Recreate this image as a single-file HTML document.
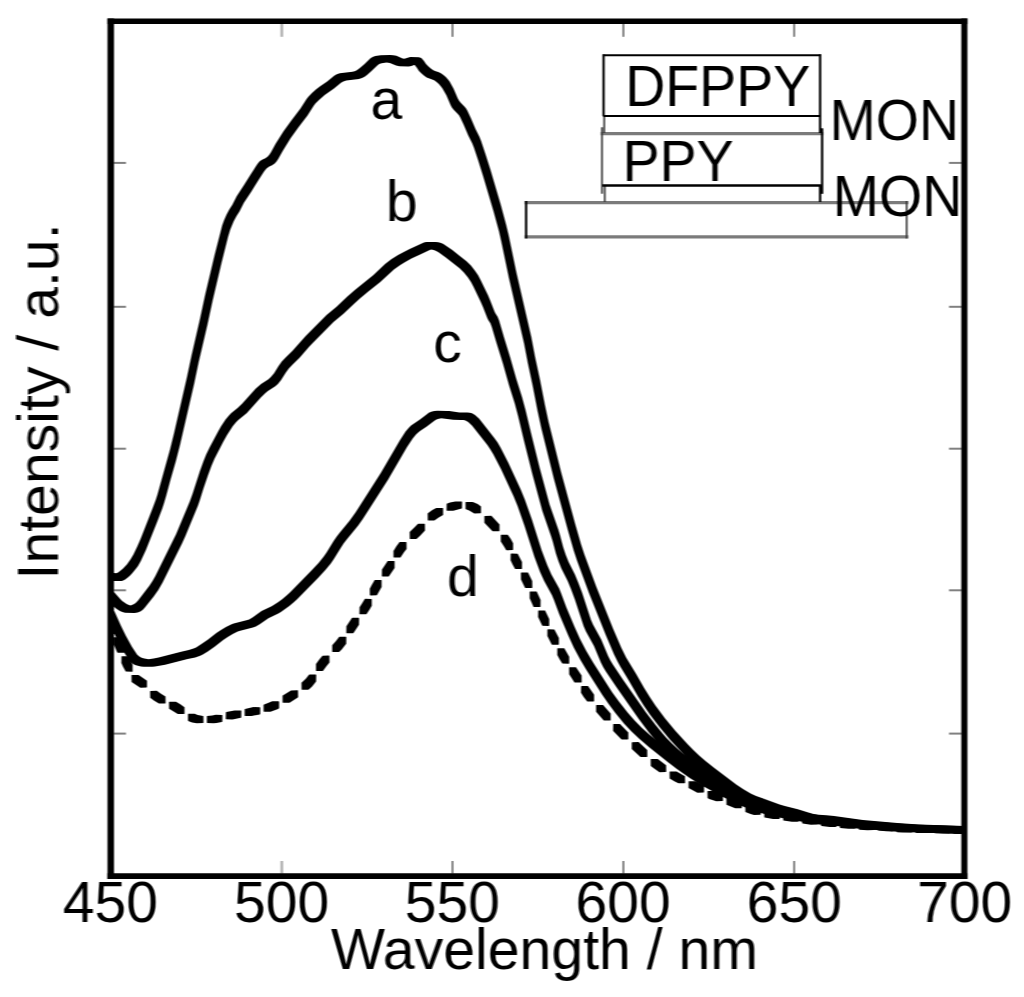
<!DOCTYPE html>
<html><head><meta charset="utf-8"><title>Spectra</title>
<style>
html,body{margin:0;padding:0;background:#fff;}
body{width:1024px;height:997px;overflow:hidden;position:relative;}
svg{position:absolute;left:0;top:0;display:block;}
#plot{position:absolute;left:0;top:0;width:1024px;height:997px;}
text{font-family:"Liberation Sans",Arial,Helvetica,sans-serif;fill:#000;}
.cv path{fill:#000;stroke:none;}
.tk line{stroke:#808080;stroke-width:2;}
.tk line.v{stroke:#b0b0b0;stroke-width:2.6;}
.tk line.w{stroke:#505050;stroke-width:1.5;}
</style></head><body>
<div id="plot">
<svg width="1024" height="997" viewBox="0 0 1024 997">
<g id="fig">
<rect x="0" y="0" width="1024" height="997" fill="#fff"/>
<g class="tk"><line class="v" x1="281.8" y1="24" x2="281.8" y2="36.8"/><line class="v" x1="281.8" y1="861" x2="281.8" y2="873.5"/><line class="w" x1="452.5" y1="24" x2="452.5" y2="36.8"/><line class="w" x1="452.5" y1="861" x2="452.5" y2="873.5"/><line class="w" x1="623.4" y1="24" x2="623.4" y2="36.8"/><line class="w" x1="623.4" y1="861" x2="623.4" y2="873.5"/><line class="w" x1="794.2" y1="24" x2="794.2" y2="36.8"/><line class="w" x1="794.2" y1="861" x2="794.2" y2="873.5"/><line x1="114" y1="162.9" x2="126" y2="162.9"/><line x1="949" y1="162.9" x2="961.5" y2="162.9"/><line x1="114" y1="306.8" x2="126" y2="306.8"/><line x1="949" y1="306.8" x2="961.5" y2="306.8"/><line x1="114" y1="448.7" x2="126" y2="448.7"/><line x1="949" y1="448.7" x2="961.5" y2="448.7"/><line x1="114" y1="590.3" x2="126" y2="590.3"/><line x1="949" y1="590.3" x2="961.5" y2="590.3"/><line x1="114" y1="733.6" x2="126" y2="733.6"/><line x1="949" y1="733.6" x2="961.5" y2="733.6"/></g>
<!-- inset layer diagram -->
<g fill="none">
<g stroke="#7b7b7b" stroke-width="3.2">
<line x1="524.6" y1="202.6" x2="908.4" y2="202.6"/>
<line x1="524.6" y1="236.8" x2="908.4" y2="236.8"/>
<line x1="600.6" y1="133.6" x2="823.4" y2="133.6"/>
</g>
<g stroke="#3a3a3a" stroke-width="1.8">
<line x1="602" y1="127.3" x2="602" y2="193.7"/>
<line x1="604.2" y1="116" x2="604.2" y2="133"/>
<line x1="604.8" y1="185.5" x2="604.8" y2="202"/>
<line x1="906.7" y1="201" x2="906.7" y2="238.4"/>
</g>
<g stroke="#000" stroke-width="2.3">
<line x1="526.1" y1="201" x2="526.1" y2="238.4"/>
<line x1="603.6" y1="54.4" x2="603.6" y2="116"/>
<line x1="820.1" y1="54.4" x2="820.1" y2="133"/>
<line x1="822.1" y1="128.3" x2="822.1" y2="193.8"/>
<line x1="820.1" y1="185.4" x2="820.1" y2="202"/>
</g>
<g stroke="#000" stroke-width="2">
<line x1="602.8" y1="55.3" x2="821.1" y2="55.3"/>
<line x1="603" y1="116.1" x2="821" y2="116.1"/>
<line x1="602.4" y1="185.5" x2="821" y2="185.5" stroke-width="2.3"/>
</g>
</g>
<g font-size="55.5">
<text transform="translate(625.2 106.2) scale(1 1.03)">DFPPY</text>
<text transform="translate(622.6 181) scale(1 1.03)">PPY</text>
<text transform="translate(829.6 140.4) scale(1 1.03)">MON</text>
<text transform="translate(832.8 216.4) scale(1 1.03)">MON</text>
</g>
<!-- curves a, b, c (solid) and d (dashed) -->
<g class="cv">
<path d="M186.9 377.6L174.0 433.4L170.1 449.3L157.5 494.4L155.9 499.6L153.0 507.3L140.8 538.5L137.4 546.3L133.6 554.3L130.8 559.1L127.1 564.2L123.1 568.4L120.7 570.6L118.1 572.5L116.3 573.3L114.0 573.0L110.6 573.0L110.6 580.7L113.2 581.1L121.9 580.9L124.8 579.7L127.5 577.7L130.1 575.4L132.2 573.3L136.1 568.6L138.0 565.9L140.8 561.0L145.8 550.2L157.3 521.5L162.2 508.7L164.0 503.2L166.2 495.7L170.5 479.8L175.9 461.0L180.0 445.0L194.1 383.9L198.6 362.6L207.5 324.5L212.6 300.7L221.5 263.0L228.1 236.8L230.2 229.8L233.6 221.4L236.4 216.3L239.6 211.3L243.9 202.8L251.4 191.5L257.6 181.4L263.7 172.0L265.2 169.9L266.8 168.2L269.3 166.6L272.1 165.3L274.7 163.5L276.5 161.4L278.2 158.9L282.7 150.9L290.4 138.4L298.3 127.5L307.5 115.4L313.7 105.8L315.4 103.6L319.0 99.9L324.7 95.0L334.0 88.5L341.0 82.8L343.3 81.4L346.2 80.5L358.9 79.0L362.0 78.1L364.6 76.7L367.0 74.9L371.5 71.0L377.3 65.4L379.2 64.1L381.6 63.2L386.6 62.6L389.9 63.0L396.1 65.6L399.4 66.3L408.7 66.4L411.4 65.9L414.1 65.0L414.7 65.1L416.7 67.6L419.0 71.0L421.3 73.3L423.9 75.5L426.7 77.4L434.2 80.3L436.6 82.0L438.9 84.1L441.0 86.4L442.5 88.4L446.4 95.3L450.7 105.2L451.9 107.4L453.7 109.7L457.4 113.4L459.0 115.3L460.3 117.5L463.6 124.6L468.3 135.5L472.2 143.3L473.9 147.6L478.4 160.9L483.0 175.7L493.6 211.6L499.0 231.3L501.3 241.4L509.1 278.8L524.1 343.5L528.0 363.8L532.7 385.7L537.6 411.0L541.4 428.4L553.9 478.8L568.0 530.4L573.8 550.8L577.2 560.9L589.0 593.1L605.9 635.3L614.1 654.4L617.7 661.7L620.3 666.4L628.8 680.6L638.2 696.8L643.9 705.8L649.9 714.4L659.5 727.1L670.1 739.7L682.8 753.3L688.0 758.6L694.3 764.3L706.9 774.6L729.4 791.5L736.6 796.4L741.8 799.5L747.0 802.1L752.2 804.2L767.9 810.0L775.8 812.6L791.4 816.5L804.5 820.6L809.7 821.7L825.3 823.0L856.6 827.2L893.9 830.5L904.6 831.3L920.5 832.0L959.2 833.4L964.3 833.4L964.3 826.1L918.7 824.4L897.2 823.0L862.8 819.9L834.1 816.0L826.4 815.2L818.6 814.7L813.5 814.0L808.3 812.6L797.8 809.3L784.8 806.1L779.6 804.6L756.1 795.9L751.1 793.7L748.5 792.3L743.4 789.3L736.2 784.4L713.7 767.6L705.2 760.7L699.1 755.5L693.3 750.0L687.9 744.5L675.5 731.0L664.9 718.2L655.4 705.4L649.6 696.8L644.0 687.8L636.0 673.8L626.1 657.4L621.3 647.8L613.1 628.7L596.2 586.6L584.4 554.4L581.1 544.4L575.2 524.0L561.2 472.4L548.6 422.0L544.9 404.7L539.9 379.3L535.2 357.4L531.3 337.1L516.4 272.4L508.6 235.0L506.2 224.9L500.9 205.2L490.3 169.3L485.6 154.4L481.1 141.1L479.4 136.7L475.5 128.9L470.8 118.0L467.4 110.8L466.1 108.5L464.4 106.5L460.7 102.8L459.1 100.7L457.8 98.6L453.6 88.7L449.6 81.6L448.0 79.5L445.8 77.1L443.4 75.0L440.9 73.2L438.3 72.0L435.7 71.2L433.3 70.2L430.8 68.4L428.2 66.3L426.0 64.1L423.8 60.7L421.3 57.9L418.9 57.2L410.3 57.1L407.7 57.7L404.4 58.7L402.6 58.4L396.4 55.8L393.2 55.3L390.0 55.1L380.7 55.3L375.3 55.9L372.6 56.9L370.5 58.3L364.6 64.0L360.2 67.8L357.9 69.6L355.5 70.9L352.6 71.7L339.8 73.3L336.8 74.2L334.2 75.7L327.2 81.5L320.2 86.2L315.9 89.6L312.0 93.0L308.4 96.7L306.6 99.0L300.5 108.6L291.2 120.7L283.4 131.6L275.5 144.1L271.0 152.2L269.5 154.6L267.8 156.5L265.4 158.2L262.6 159.5L260.0 161.1L258.2 163.0L256.6 165.2L250.5 174.7L244.2 184.7L236.7 196.2L232.4 204.7L229.3 209.6L226.5 214.8L224.1 220.3L222.2 225.6L214.9 253.9L205.3 294.3L200.2 318.1L191.4 356.2Z"/>
<path d="M189.9 501.3L176.1 534.2L155.4 575.9L152.7 580.8L149.6 585.6L138.1 600.4L136.2 602.6L134.2 604.1L131.3 605.2L130.5 605.4L128.9 604.9L126.6 603.9L122.2 601.0L120.2 599.1L114.2 592.3L110.6 592.2L110.6 603.1L113.2 606.1L115.4 608.0L117.6 609.6L119.9 611.0L122.4 612.1L125.0 612.8L134.4 613.0L137.7 612.5L140.8 611.3L143.1 609.6L145.1 607.3L153.7 596.4L158.3 589.9L162.6 582.5L182.0 543.5L185.3 536.3L198.0 505.5L199.8 500.3L203.3 489.1L208.0 475.2L211.5 465.7L214.5 458.8L223.0 442.3L226.9 435.3L232.7 426.3L236.0 422.3L238.0 420.3L246.9 412.9L260.8 397.5L265.2 393.3L267.9 391.0L275.3 386.2L277.9 384.0L281.1 380.0L285.7 372.8L288.8 368.4L292.4 364.7L299.8 357.6L308.9 347.1L312.5 343.2L333.5 322.0L343.5 313.8L354.4 303.5L359.9 298.6L367.7 292.0L380.3 281.9L393.9 269.5L400.3 264.9L404.8 262.2L411.4 258.6L428.1 250.8L430.3 249.8L431.5 249.5L434.5 250.3L436.7 251.3L438.9 252.6L445.5 257.2L459.6 268.3L463.9 272.5L467.8 277.2L471.0 281.9L473.5 286.8L480.8 301.9L483.1 307.2L487.4 318.3L488.4 320.3L490.4 323.3L491.8 327.0L496.7 343.5L503.0 363.8L509.2 385.7L514.8 403.6L518.1 415.9L524.2 441.4L532.3 473.7L542.3 510.7L551.1 536.2L552.7 541.2L556.0 553.7L558.5 561.2L561.4 568.6L567.7 581.1L570.9 588.7L574.8 599.3L583.7 626.2L586.0 631.4L594.0 646.1L600.9 662.6L603.3 667.2L605.9 671.6L616.2 686.7L638.8 719.0L648.6 732.0L657.6 742.7L667.2 752.5L673.3 758.1L677.5 761.4L683.7 765.9L705.5 780.8L723.2 792.4L734.4 799.0L744.1 803.7L756.7 808.8L769.2 812.9L779.3 815.7L786.8 817.4L811.8 822.4L819.4 823.6L836.9 825.3L856.9 827.9L891.6 830.9L901.9 831.6L938.8 833.0L959.2 833.6L964.3 833.6L964.3 826.3L918.4 824.8L900.3 823.8L865.6 820.9L843.1 818.1L825.6 816.3L813.1 814.3L790.7 809.6L778.2 806.4L768.2 803.3L755.7 798.7L748.2 795.4L743.3 793.0L734.4 788.0L716.7 776.7L690.4 758.8L682.4 752.9L678.1 749.2L672.2 743.7L666.5 737.9L662.8 733.7L655.6 725.1L645.8 712.2L623.2 679.9L613.0 664.8L610.4 660.5L608.1 656.0L601.2 639.5L593.1 624.7L590.9 619.7L582.1 592.8L578.1 582.2L574.9 574.5L568.6 562.0L565.7 554.7L563.2 547.3L559.9 534.8L558.4 529.7L549.5 504.3L539.5 467.3L531.5 435.0L525.4 409.6L522.0 397.1L516.4 379.3L510.2 357.4L503.9 337.1L499.1 320.5L497.6 316.7L495.5 313.5L494.6 311.7L490.3 300.7L488.0 295.3L480.7 280.2L478.1 275.2L474.8 270.4L470.9 265.6L466.5 261.3L452.3 250.1L445.6 245.4L443.4 244.1L441.1 243.1L438.3 242.3L435.3 241.9L426.3 242.0L423.9 242.5L409.7 249.0L404.8 251.4L398.1 255.1L391.3 259.3L385.1 264.1L373.5 274.9L354.9 289.9L347.4 296.5L336.6 306.8L326.6 315.0L305.5 336.2L301.9 340.2L292.8 350.6L285.4 357.7L281.8 361.5L278.6 366.0L274.1 373.2L270.9 377.1L268.5 379.2L261.1 384.0L255.6 388.7L242.1 403.7L237.9 407.8L231.1 413.3L229.0 415.4L225.6 419.5L221.1 426.3L218.4 430.9L209.6 447.4L206.2 454.5L203.4 461.6L199.8 471.4L192.6 493.8Z"/>
<path d="M114.8 634.7L119.8 644.6L124.8 653.5L130.0 661.2L132.4 663.5L135.1 664.9L137.9 665.8L140.9 666.4L143.8 666.7L146.3 666.8L152.4 666.8L155.0 666.6L165.1 664.7L187.6 658.9L195.2 657.4L200.2 655.8L202.8 654.5L207.8 651.4L214.9 646.4L223.2 640.0L227.7 637.0L232.7 634.0L237.7 631.6L240.2 630.7L252.9 627.5L255.8 626.6L259.7 624.3L268.4 618.3L278.3 613.4L280.9 612.0L285.1 609.1L289.3 606.0L293.5 602.6L297.1 599.2L318.5 577.6L325.6 569.8L330.8 563.4L333.7 559.2L340.7 548.0L343.6 543.6L346.7 539.6L358.2 525.6L362.8 519.1L388.0 479.7L406.9 447.3L412.7 438.4L416.0 434.4L417.9 432.7L420.0 431.1L426.8 426.6L433.4 421.4L435.5 420.0L437.7 418.9L441.3 418.2L453.2 419.7L461.2 419.9L463.6 420.1L465.5 420.5L468.2 421.9L472.2 425.7L487.4 445.0L490.4 449.4L493.3 454.2L501.1 469.3L513.6 496.3L517.6 506.0L524.5 525.8L534.5 556.9L540.1 571.9L544.2 581.1L552.0 595.2L553.9 599.7L559.2 614.1L568.3 635.5L573.9 647.7L580.5 660.1L586.0 669.3L602.4 695.0L608.5 703.8L615.4 712.9L624.0 723.4L631.3 731.3L639.0 738.4L649.2 747.2L670.4 764.1L676.6 768.8L689.8 777.9L703.3 786.2L724.1 797.6L736.7 803.8L744.2 807.0L751.7 809.9L759.2 812.4L764.3 813.9L771.8 815.8L781.8 818.1L811.8 823.5L819.4 824.5L836.9 826.0L856.9 828.6L901.9 832.0L959.2 833.8L964.3 833.9L964.3 826.5L908.0 824.7L863.1 821.4L843.1 818.8L825.6 817.2L815.6 815.8L785.7 810.3L775.7 808.0L765.7 805.2L753.2 800.8L740.8 795.4L733.3 791.7L721.1 785.2L705.6 776.5L694.2 769.3L681.3 760.2L658.3 742.0L649.9 734.9L642.0 727.9L634.6 720.4L627.6 712.4L618.9 701.6L612.3 692.5L608.1 686.1L593.1 662.6L586.3 650.9L579.9 638.7L574.4 626.4L566.4 607.5L561.1 593.2L559.2 588.6L551.4 574.5L547.3 565.3L541.7 550.5L531.8 519.3L524.8 499.5L520.8 489.7L508.3 462.7L500.5 447.5L497.6 442.6L494.5 438.2L479.2 418.8L475.0 414.9L472.0 413.3L469.8 412.8L467.3 412.6L459.4 412.5L449.3 411.0L446.9 410.9L437.5 410.8L434.3 410.9L431.2 411.7L428.8 412.8L426.6 414.4L420.0 419.6L411.1 425.6L409.1 427.4L405.6 431.6L399.8 440.6L380.8 472.9L355.7 512.3L349.6 520.7L339.7 532.7L336.6 536.8L333.5 541.3L326.6 552.5L323.8 556.6L318.6 562.9L311.5 570.6L290.2 592.2L286.6 595.6L282.5 599.0L278.4 602.0L274.1 604.8L271.7 606.2L261.6 611.1L252.9 617.2L249.2 619.4L246.5 620.3L233.7 623.5L231.1 624.4L226.0 626.9L221.0 629.9L216.4 632.9L208.1 639.4L201.1 644.3L196.1 647.4L193.6 648.6L188.8 650.1L181.2 651.7L158.7 657.4L153.7 658.4L148.6 659.3L144.3 658.5L141.6 657.7L139.3 656.5L137.0 654.4L131.9 646.8L125.7 635.6L120.8 625.5L114.5 611.4L114.0 611.1L110.6 611.1L110.6 625.5Z"/>
<path d="M371.6 585.2L369.8 588.7L369.9 595.1L370.4 595.4L376.9 595.3L381.6 586.9L381.6 580.2L381.1 579.9L374.7 580.0ZM359.7 614.3L366.1 614.3L366.6 614.1L369.6 609.6L371.8 605.8L371.8 599.4L371.5 598.9L365.1 598.8L364.6 599.2L362.5 602.8L359.6 607.3L359.4 613.7ZM346.3 632.7L346.6 633.2L346.9 633.3L353.0 633.3L353.5 633.0L359.0 624.8L359.1 618.4L358.8 617.8L352.4 617.8L351.9 618.0L346.4 626.2ZM110.6 633.8L117.0 633.9L117.5 633.6L117.6 627.0L116.0 618.9L115.7 618.4L110.6 618.4ZM332.5 652.1L339.1 652.1L341.7 649.4L346.2 643.7L346.3 637.3L346.0 636.8L339.6 636.7L339.1 636.9L336.0 640.9L332.4 645.1L332.2 645.5L332.2 651.6ZM113.7 644.2L117.3 652.4L117.9 652.8L124.0 652.8L124.3 652.7L124.6 652.2L124.6 645.9L120.9 637.6L120.3 637.3L114.2 637.3L113.9 637.4L113.6 637.9ZM316.0 664.1L316.0 670.8L316.5 671.1L322.9 671.0L326.4 666.2L329.3 662.7L329.5 662.3L329.4 655.9L328.9 655.6L322.5 655.7L319.3 659.4ZM123.2 667.0L125.7 671.6L132.1 671.7L132.6 671.4L132.6 664.7L128.4 656.3L122.0 656.2L121.5 656.5L121.4 662.9ZM131.6 681.9L140.3 687.7L146.7 687.6L147.0 687.1L147.0 680.8L144.5 678.9L138.6 675.1L131.8 675.0L131.5 675.6ZM301.6 689.5L302.1 689.8L308.2 689.8L309.1 689.2L312.1 686.4L316.1 681.6L316.2 675.1L315.9 674.6L309.5 674.5L309.0 674.8L305.8 678.7L301.5 682.8ZM282.6 702.5L283.2 702.8L289.6 702.7L297.8 697.5L298.1 697.0L298.0 690.6L297.5 690.3L291.0 690.4L282.8 695.6L282.6 696.1ZM153.9 700.6L158.9 703.5L165.3 703.4L165.6 702.9L165.5 696.5L160.6 693.5L156.8 690.8L150.4 690.9L150.1 691.4L150.2 697.7ZM264.1 704.5L263.6 705.0L263.6 711.1L263.9 711.7L264.2 711.7L270.5 711.7L277.4 709.2L278.8 708.5L279.1 708.0L279.1 701.9L278.8 701.3L278.5 701.3L272.2 701.3L268.0 703.1ZM169.1 708.7L177.8 714.1L184.2 714.1L184.5 713.5L184.5 707.2L180.3 704.2L176.0 701.7L169.3 701.7L169.0 702.3ZM253.5 707.1L245.0 708.9L244.7 709.3L244.7 715.4L245.0 716.0L251.5 716.0L259.7 714.4L260.2 714.0L260.2 707.7L259.9 707.2ZM234.5 710.5L226.3 712.1L225.9 712.4L225.8 718.8L226.1 719.3L232.5 719.4L240.8 717.8L241.2 717.4L241.3 711.1L241.0 710.6ZM192.2 722.4L196.7 723.2L203.2 723.1L203.5 722.6L203.4 716.2L202.9 715.9L200.5 715.6L197.6 714.9L194.7 713.8L188.3 713.8L188.0 714.4L188.0 720.8L189.3 721.5ZM207.1 716.0L206.9 716.5L206.9 722.6L207.2 723.1L213.6 723.2L216.5 722.9L221.7 722.1L222.3 721.8L222.4 715.4L222.1 714.9L215.7 714.8L212.3 715.4ZM450.0 502.6L446.7 503.8L446.6 510.2L446.9 510.7L453.3 510.8L458.0 509.4L461.6 508.6L462.0 508.3L462.1 501.9L461.8 501.4L455.3 501.4ZM469.2 510.4L474.3 513.4L480.7 513.3L481.0 512.8L481.0 506.4L477.7 504.1L475.8 503.2L473.5 502.3L472.2 502.0L465.8 502.1L465.5 502.6L465.6 508.9L466.0 509.3ZM427.9 513.3L427.7 513.8L427.8 520.2L428.3 520.5L434.4 520.5L438.7 517.4L443.1 514.9L443.1 508.2L442.6 507.9L436.2 507.9L432.0 510.3ZM484.6 522.9L492.3 531.1L492.8 531.3L499.2 531.2L499.5 530.7L499.5 524.6L499.3 524.2L491.4 515.8L484.7 515.9L484.4 516.4L484.4 522.5ZM409.8 538.7L410.3 539.0L416.4 539.0L416.8 538.8L420.1 535.7L424.8 530.8L425.0 530.4L424.9 524.0L424.4 523.7L418.3 523.7L417.8 523.9L414.6 527.3L409.7 532.1ZM504.2 546.8L506.1 550.1L506.4 550.2L512.8 550.1L513.1 549.6L513.1 543.2L510.8 539.1L507.8 534.8L501.1 534.8L500.8 535.3L500.8 541.4ZM393.5 550.9L393.5 557.0L393.8 557.5L400.5 557.5L404.0 552.2L406.4 549.2L406.6 548.8L406.5 542.4L406.0 542.1L399.6 542.1L396.4 546.3ZM512.6 564.6L515.1 569.0L521.5 569.1L522.0 568.8L522.0 562.1L517.7 553.7L511.2 553.6L510.7 553.9L510.6 560.3ZM382.0 569.5L381.9 576.2L382.5 576.5L388.8 576.4L394.6 568.0L394.6 561.3L394.1 561.0L387.7 561.1ZM521.0 579.5L525.0 587.7L525.6 588.0L531.7 588.0L532.0 588.0L532.3 587.4L532.2 581.1L528.4 573.3L528.0 572.6L527.6 572.5L521.5 572.5L521.2 572.6L520.9 573.1ZM529.7 598.2L533.6 606.9L540.0 607.0L540.5 606.7L540.6 600.0L536.7 591.6L530.3 591.5L529.7 591.8ZM538.1 617.1L542.3 625.8L548.7 625.9L549.2 625.6L549.2 618.9L545.1 610.5L538.7 610.4L538.2 610.7ZM547.4 636.0L551.7 644.5L552.2 644.8L558.6 644.7L558.9 644.2L558.9 638.1L554.4 629.4L548.0 629.3L547.7 629.4L547.4 629.9ZM559.6 659.3L562.3 663.6L568.7 663.7L569.2 663.4L569.2 656.7L564.3 648.3L557.9 648.2L557.3 648.5L557.3 654.9ZM569.2 674.2L574.5 682.4L575.0 682.6L581.4 682.6L581.7 682.0L581.6 675.6L576.0 667.2L569.4 667.2L569.1 667.7ZM583.7 697.0L587.2 701.5L593.5 701.6L594.1 701.3L594.1 694.9L594.0 694.5L588.0 686.1L581.6 686.1L581.1 686.4L581.0 692.8ZM596.3 712.1L603.8 720.4L610.4 720.4L610.7 719.9L610.7 713.8L610.6 713.4L603.1 705.0L596.4 705.1L596.1 705.6L596.1 711.7ZM613.2 731.0L621.3 739.2L621.7 739.4L627.8 739.4L628.3 739.1L628.3 732.4L620.0 724.0L613.7 723.9L613.2 724.2L613.1 730.6ZM631.8 749.1L640.2 756.8L640.6 757.0L647.0 756.9L647.3 756.4L647.2 750.0L638.9 742.3L638.5 742.1L632.1 742.2L631.8 742.7ZM654.5 768.8L659.5 772.2L665.9 772.1L666.2 771.6L666.1 765.2L657.8 759.1L657.4 759.0L651.0 759.0L650.7 759.6L650.8 765.9ZM674.3 781.2L678.4 783.3L684.8 783.2L685.1 782.7L685.0 776.2L676.6 771.6L669.9 771.6L669.6 772.1L669.7 778.5ZM688.6 788.1L697.4 792.7L703.8 792.6L704.1 792.1L704.0 785.7L695.5 781.2L688.9 781.2L688.6 781.7ZM712.4 800.1L716.3 801.2L722.7 801.1L723.0 800.6L722.9 794.1L717.9 792.5L714.2 791.1L707.8 791.1L707.5 791.7L707.6 798.1L709.2 798.9ZM726.5 804.7L735.2 808.2L741.6 808.2L741.9 807.6L741.8 801.2L733.3 797.7L726.7 797.8L726.4 798.3ZM750.6 813.9L754.1 814.9L760.5 814.8L760.8 814.3L760.7 807.9L752.2 805.1L745.6 805.1L745.3 805.6L745.4 812.1ZM764.7 817.5L773.0 819.1L779.4 819.0L779.7 818.5L779.7 812.2L779.2 811.8L771.1 810.2L764.5 810.3L764.2 810.8L764.3 817.2ZM791.9 821.8L798.1 821.8L798.6 821.5L798.7 815.1L798.4 814.6L789.9 813.3L783.8 813.3L783.2 813.6L783.2 820.0L783.4 820.5ZM802.6 823.5L810.9 824.7L817.3 824.6L817.6 824.1L817.5 817.7L817.1 817.4L808.9 816.2L802.4 816.3L802.1 816.8L802.1 823.1ZM821.5 826.1L829.8 827.1L836.2 827.1L836.5 826.5L836.4 820.2L836.0 819.8L827.8 818.9L821.3 818.9L821.0 819.5L821.1 825.8ZM848.5 828.7L854.8 828.7L855.3 828.4L855.4 822.0L855.2 821.5L846.6 820.8L840.5 820.8L840.0 821.1L839.9 827.5L840.2 828.0ZM859.4 829.7L867.6 830.2L874.0 830.1L874.3 829.6L874.3 823.2L873.8 822.9L865.6 822.4L859.1 822.5L858.8 823.0L858.9 829.4ZM886.2 831.3L892.7 831.4L893.2 831.1L893.3 824.7L893.0 824.2L884.5 823.4L878.4 823.4L877.8 823.7L877.8 830.1L878.0 830.6ZM902.2 832.6L911.9 832.6L912.2 832.1L912.1 825.7L911.6 825.4L903.4 825.0L897.0 825.1L896.7 825.6L896.8 832.0L897.2 832.3ZM915.9 832.9L930.5 833.1L931.0 832.8L931.1 826.4L930.8 825.9L916.2 825.7L915.7 826.0L915.6 832.4ZM943.3 833.6L949.4 833.6L949.9 833.3L950.0 826.9L949.7 826.4L941.2 826.1L935.1 826.1L934.6 826.4L934.5 832.8L934.8 833.3ZM964.3 834.0L964.3 826.7L954.0 826.6L953.5 826.9L953.4 833.3L953.7 833.8Z"/>
</g>
<!-- frame -->
<g stroke="#000" stroke-linecap="butt">
<line x1="110.75" y1="18.5" x2="110.75" y2="879" stroke-width="6.5"/>
<line x1="964.35" y1="18.5" x2="964.35" y2="879" stroke-width="6.1"/>
<line x1="107.5" y1="21.3" x2="967.4" y2="21.3" stroke-width="5.6"/>
<line x1="107.5" y1="876.1" x2="967.4" y2="876.1" stroke-width="5.85"/>
</g>
<!-- labels -->
<text x="370.5" y="118.6" font-size="57">a</text>
<text x="385.9" y="221" font-size="57">b</text>
<text x="433.2" y="362.2" font-size="57">c</text>
<text x="447.1" y="596" font-size="57">d</text>
<g font-size="57" text-anchor="middle">
<text x="110.4" y="921.9">450</text>
<text x="281.6" y="921.9">500</text>
<text x="452.3" y="921.9">550</text>
<text x="623.1" y="921.9">600</text>
<text x="794.3" y="921.9">650</text>
<text x="964.7" y="921.9">700</text>
</g>
<text x="331" y="968.6" font-size="57.2">Wavelength / nm</text>
<text transform="translate(58.2 579.5) rotate(-90)" font-size="57.2">Intensity / a.u.</text>
</g>
<!-- two faint horizontally offset copies soften vertical edges like the upscaled original -->
<use href="#fig" x="-0.8" opacity="0.5"/>
<use href="#fig" x="0.8" opacity="0.3333"/>
</svg>
</div>
</body></html>
